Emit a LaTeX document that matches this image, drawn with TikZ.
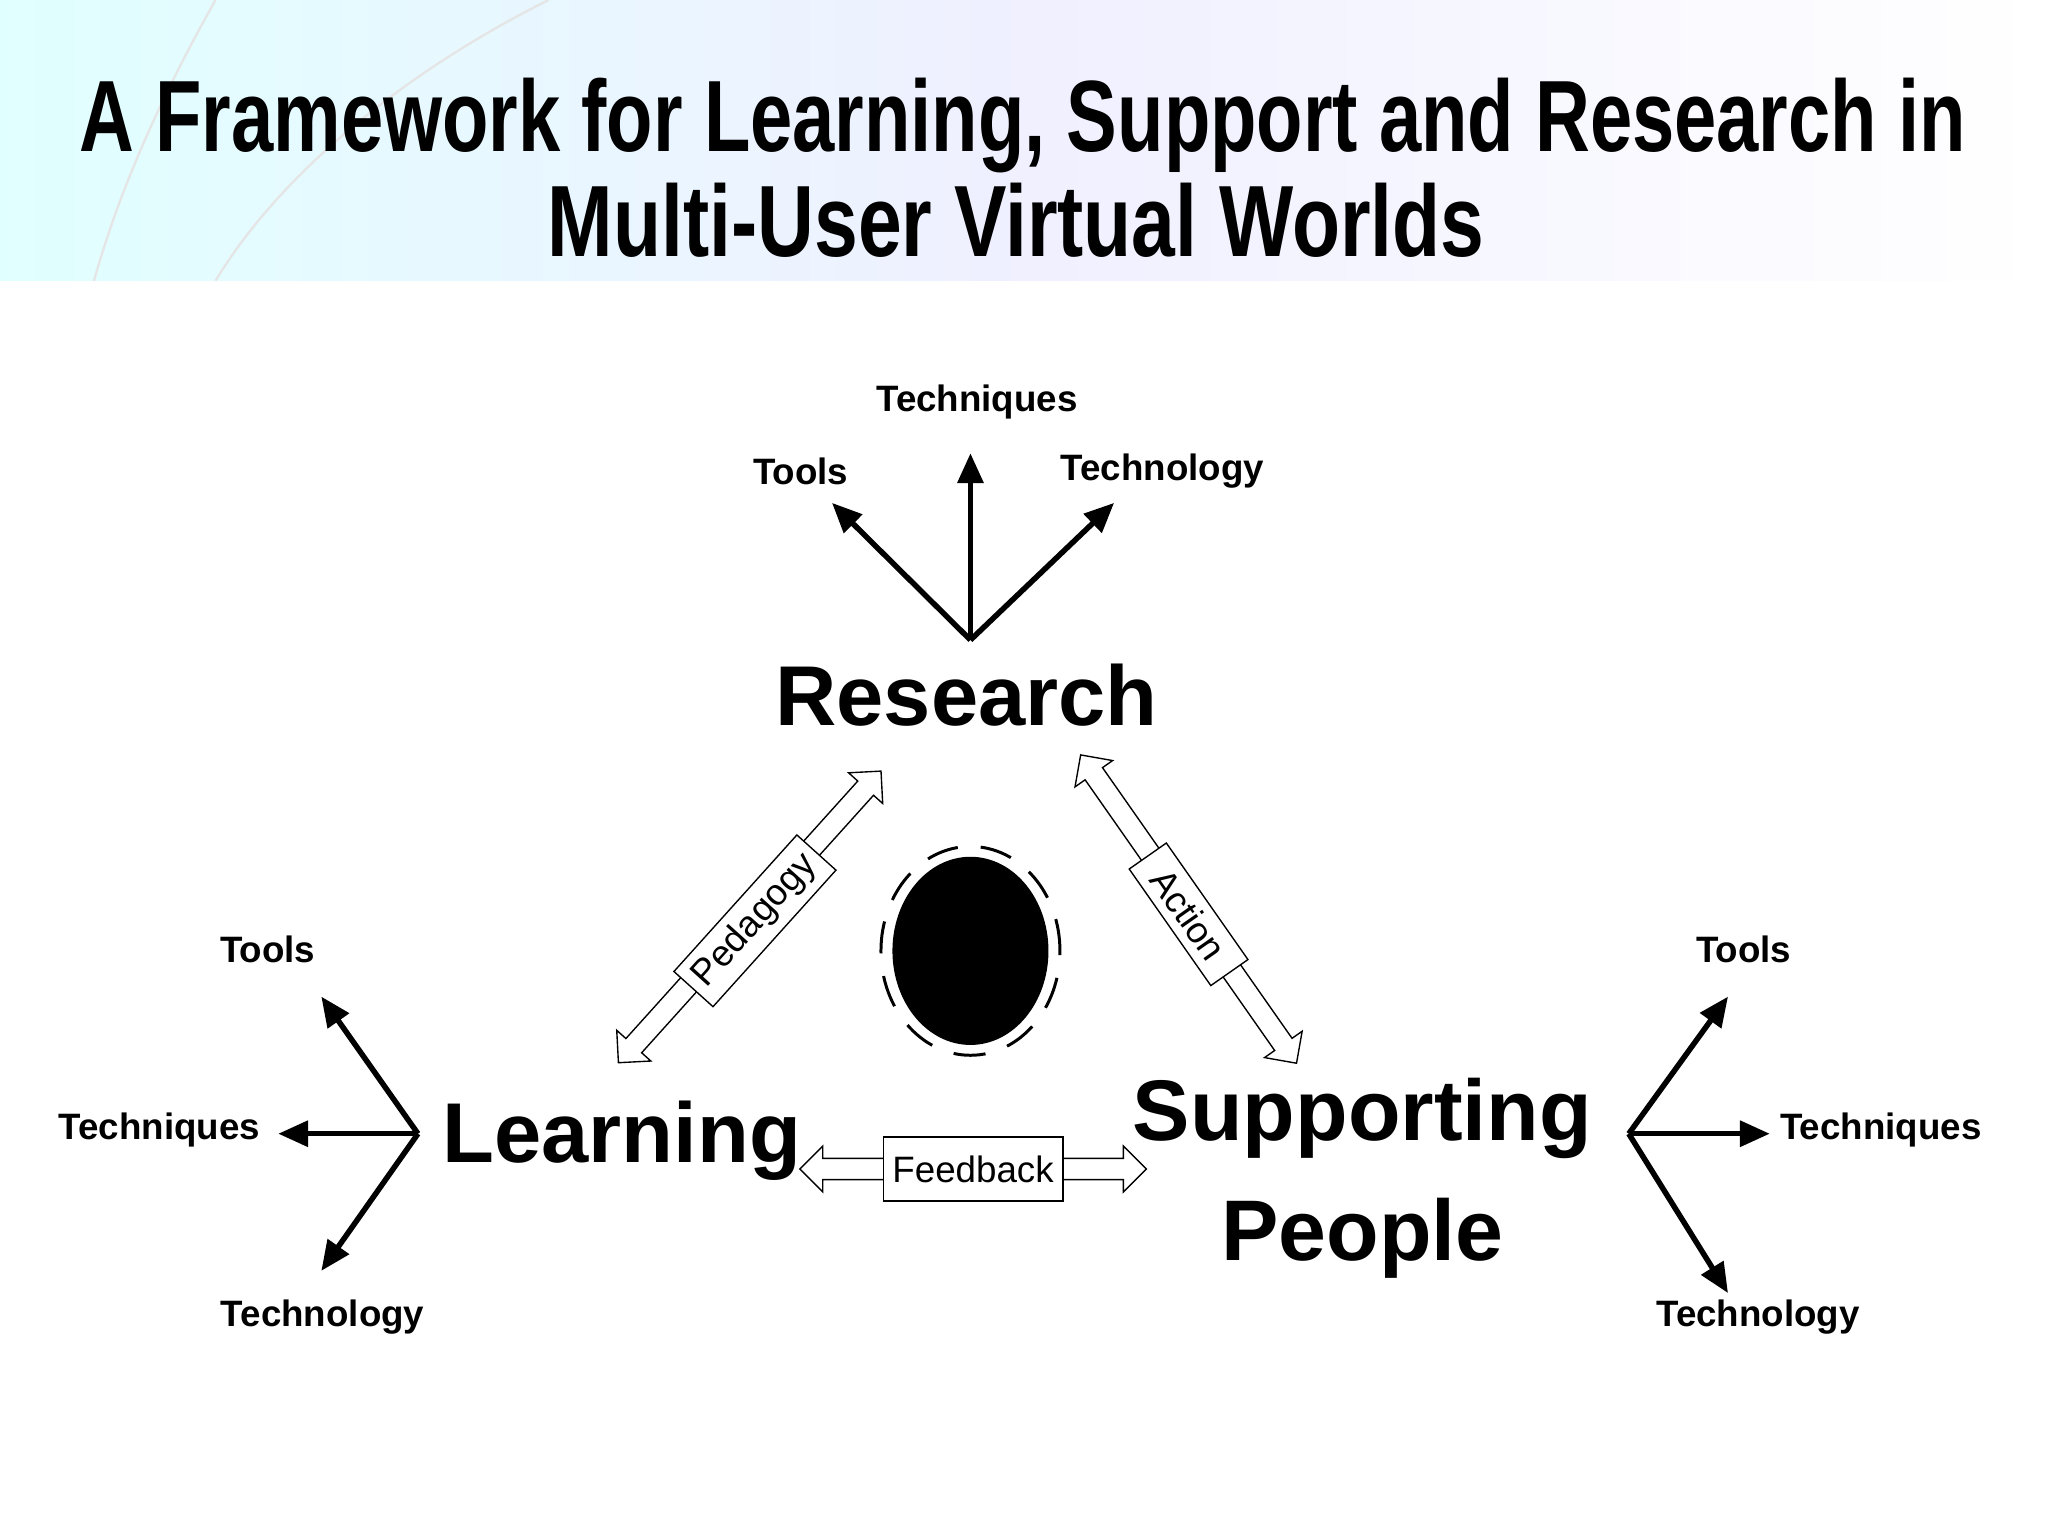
\documentclass[tikz,border=0pt]{standalone}
\usepackage{fontspec}
\setmainfont{Liberation Sans}
\usetikzlibrary{arrows.meta,shapes.arrows,shapes.geometric}
\begin{document}
\begin{tikzpicture}[x=0.02cm,y=-0.02cm,
  big/.style={font=\bfseries\fontsize{37}{42}\selectfont, inner sep=0pt},
  lbl/.style={font=\bfseries\fontsize{16}{19}\selectfont, inner sep=0pt},
  spoke/.style={line width=2.4pt,-{Triangle[length=13pt,width=11pt]}},
  dbl/.style={double arrow, draw, fill=white, line width=0.6pt, inner sep=4pt,
     double arrow head extend=5pt, minimum width=20pt, minimum height=#1},
  tag/.style={draw, fill=white, line width=0.6pt, font=\fontsize{16}{18}\selectfont, inner sep=4pt}]
\useasboundingbox (0,0) rectangle (1568,1176);
\shade[left color=cyan!12, right color=white, middle color=blue!6] (0,0) rectangle (1568,215);
\draw[white!80!gray, line width=1pt] (165,0) .. controls (120,80) and (90,150) .. (72,215);
\draw[white!80!gray, line width=1pt] (420,0) .. controls (300,60) and (210,140) .. (165,215);
\node[inner sep=0pt, anchor=base] (t1) at (783,116) {\resizebox{822pt}{32pt}{\bfseries A Framework for Learning, Support and Research in}};
\node[inner sep=0pt, anchor=base] (t2) at (778,196) {\resizebox{408pt}{32pt}{\bfseries Multi-User Virtual Worlds}};
% main nodes
\node[big] (res) at (740,532) {Research};
\node[big] (lea) at (476,873) {Learning};
\node[big, align=center, font=\bfseries\fontsize{37.5}{52}\selectfont] (sup) at (1043,902) {Supporting\\People};
% research spokes
\coordinate (rb) at (743,490);
\node[lbl] (rt1) at (613,361) {Tools};
\node[lbl] (rt2) at (748,308) {Techniques};
\node[lbl] (rt3) at (890,361) {Technology};
\coordinate (ra1) at (637,385); \coordinate (ra2) at (743,347); \coordinate (ra3) at (853,385);
\draw[spoke] (rb) -- (ra1); \draw[spoke] (rb) -- (ra2); \draw[spoke] (rb) -- (ra3);
% learning spokes
\coordinate (lb) at (320,868);
\node[lbl] (lt1) at (205,727) {Tools};
\node[lbl] (lt2) at (122,865) {Techniques};
\node[lbl] (lt3) at (247,1008) {Technology};
\coordinate (la1) at (246,763); \coordinate (la2) at (213,868); \coordinate (la3) at (246,973);
\draw[spoke] (lb) -- (la1); \draw[spoke] (lb) -- (la2); \draw[spoke] (lb) -- (la3);
% supporting spokes
\coordinate (sb) at (1247,868);
\node[lbl] (st1) at (1335,727) {Tools};
\node[lbl] (st2) at (1440,865) {Techniques};
\node[lbl] (st3) at (1346,1008) {Technology};
\coordinate (sa1) at (1323,763); \coordinate (sa2) at (1355,868); \coordinate (sa3) at (1323,990);
\draw[spoke] (sb) -- (sa1); \draw[spoke] (sb) -- (sa2); \draw[spoke] (sb) -- (sa3);
% double arrows
\node[dbl=171pt, rotate=48] (ped) at (574,702) {};
\node[tag, rotate=48] (pedt) at (578,705) {Pedagogy};
\node[dbl=164pt, rotate=-55] (act) at (910,696) {};
\node[tag, rotate=-55, minimum width=62pt] (actt) at (910,700) {Action};
\node[dbl=151pt] (fb) at (745,895) {};
\node[tag, inner sep=4pt, minimum height=28pt] (fbt) at (745,895) {Feedback};
% center blob
\node[ellipse, fill=black, minimum width=68pt, minimum height=82pt] (blob) at (743,728) {};
\node[ellipse, draw, line width=1.3pt, dash pattern=on 14pt off 10pt, minimum width=78pt, minimum height=91pt] (ring) at (743,728) {};
\end{tikzpicture}
\end{document}
